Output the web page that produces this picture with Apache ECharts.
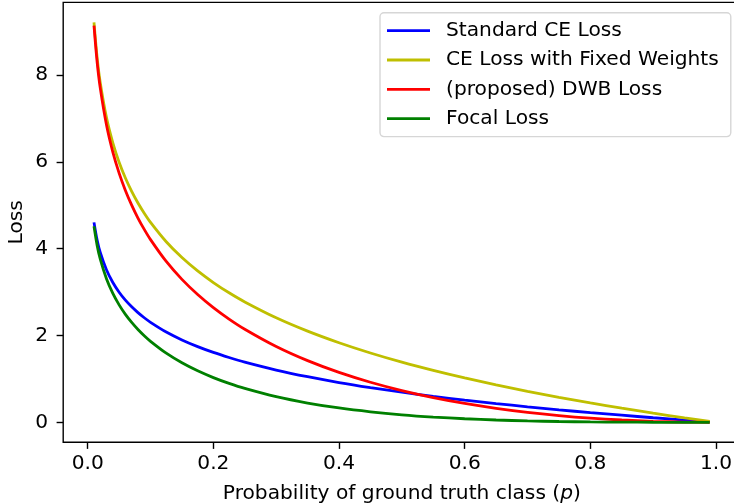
<!DOCTYPE html>
<html>
<head>
<meta charset="utf-8">
<script src="https://cdn.jsdelivr.net/npm/echarts@6/dist/echarts.min.js"></script>
<style>
  html, body { margin: 0; padding: 0; background: #fff; }
  #chart { width: 734px; height: 503px; }
</style>
</head>
<body>
<div id="chart"></div>
<script>
// Probability of the ground-truth class
const probs = [0.01, 0.015, 0.02, 0.03, 0.04, 0.05, 0.06, 0.07, 0.08, 0.09, 0.10,
  0.125, 0.15, 0.175, 0.2, 0.225, 0.25, 0.3, 0.35, 0.4, 0.45, 0.5, 0.55, 0.6,
  0.65, 0.7, 0.75, 0.8, 0.85, 0.9, 0.95, 0.99];

// Loss values for each curve
const standardCE = [4.605, 4.200, 3.912, 3.507, 3.219, 2.996, 2.813, 2.659, 2.526, 2.408, 2.303,
  2.079, 1.897, 1.743, 1.609, 1.492, 1.386, 1.204, 1.050, 0.916, 0.799, 0.693, 0.598, 0.511,
  0.431, 0.357, 0.288, 0.223, 0.163, 0.105, 0.051, 0.010];
const fixedWeightsCE = [9.210, 8.399, 7.824, 7.013, 6.438, 5.991, 5.627, 5.319, 5.051, 4.816, 4.605,
  4.159, 3.794, 3.486, 3.219, 2.983, 2.773, 2.408, 2.100, 1.833, 1.597, 1.386, 1.196, 1.022,
  0.862, 0.713, 0.575, 0.446, 0.325, 0.211, 0.103, 0.020];
const dwbLoss = [9.137, 8.298, 7.697, 6.840, 6.223, 5.740, 5.341, 5.002, 4.705, 4.443, 4.207,
  3.704, 3.292, 2.944, 2.642, 2.378, 2.144, 1.746, 1.420, 1.149, 0.922, 0.730, 0.569, 0.434,
  0.322, 0.229, 0.155, 0.096, 0.053, 0.023, 0.006, 0.000];
const focalLoss = [4.514, 4.075, 3.757, 3.299, 2.967, 2.704, 2.486, 2.300, 2.138, 1.994, 1.865,
  1.592, 1.371, 1.186, 1.030, 0.896, 0.780, 0.590, 0.444, 0.330, 0.242, 0.173, 0.121, 0.082,
  0.053, 0.032, 0.018, 0.009, 0.004, 0.001, 0.000, 0.000];

// Tick positions
const xTicks = [0, 0.2, 0.4, 0.6, 0.8, 1.0];
const yTicks = [0, 2, 4, 6, 8];

const seriesNames = ['Standard CE Loss', 'CE Loss with Fixed Weights', '(proposed) DWB Loss', 'Focal Loss'];
const seriesColors = ['#0000ff', '#bfbf00', '#ff0000', '#008000'];
const seriesValues = [standardCE, fixedWeightsCE, dwbLoss, focalLoss];

const FONT = 'DejaVu Sans';
const FS = 20.2;
const LW = 2.8;

const pairs = vals => probs.map((p, i) => [p, vals[i]]);

const chart = echarts.init(document.getElementById('chart'), null, { renderer: 'canvas' });

chart.setOption({
  animation: false,
  backgroundColor: '#ffffff',
  textStyle: { fontFamily: FONT },
  grid: {
    left: 63.2, top: 2.4, width: 677.3, height: 439.9,
    outerBoundsMode: 'none', containLabel: false,
    show: true, borderColor: '#000', borderWidth: 1.4, backgroundColor: 'transparent'
  },
  legend: {
    orient: 'vertical',
    left: 380, top: 12.7,
    data: seriesNames,
    icon: 'rect',
    itemWidth: 43, itemHeight: LW, itemGap: 9.3,
    padding: [8, 12, 8, 7],
    backgroundColor: 'rgba(255,255,255,0.8)',
    borderColor: '#d6d6d6', borderWidth: 1.4, borderRadius: 4,
    textStyle: { fontFamily: FONT, fontSize: FS, color: '#000', padding: [0, 0, 0, 11], lineHeight: 20 }
  },
  xAxis: {
    type: 'value',
    min: -0.039, max: 1.039,
    splitLine: { show: false },
    axisLine: { show: false, onZero: false },
    axisTick: { show: true, customValues: xTicks, length: 6.6, lineStyle: { color: '#000', width: 1.4 } },
    axisLabel: {
      customValues: xTicks, margin: 11,
      fontFamily: FONT, fontSize: FS, color: '#000',
      formatter: v => v.toFixed(1)
    },
    name: 'Probability of ground truth class ({i|p})',
    nameLocation: 'middle', nameGap: 41, nameMoveOverlap: false,
    nameTextStyle: {
      fontFamily: FONT, fontSize: FS, color: '#000',
      rich: { i: { fontFamily: FONT, fontSize: FS, fontStyle: 'italic', color: '#000' } }
    }
  },
  yAxis: {
    type: 'value',
    min: -0.4605, max: 9.671,
    splitLine: { show: false },
    axisLine: { show: false, onZero: false },
    axisTick: { show: true, customValues: yTicks, length: 6.6, lineStyle: { color: '#000', width: 1.4 } },
    axisLabel: {
      customValues: yTicks, margin: 15,
      fontFamily: FONT, fontSize: FS, color: '#000',
      formatter: v => String(v)
    },
    name: 'Loss',
    nameLocation: 'middle', nameGap: 36, nameRotate: 90, nameMoveOverlap: false,
    nameTextStyle: { fontFamily: FONT, fontSize: FS, color: '#000' }
  },
  series: seriesNames.map((name, k) => ({
    name,
    type: 'line',
    data: pairs(seriesValues[k]),
    symbol: 'none',
    smooth: 0.3,
    color: seriesColors[k],
    lineStyle: { color: seriesColors[k], width: LW },
    z: 2 + k
  }))
});
</script>
</body>
</html>
